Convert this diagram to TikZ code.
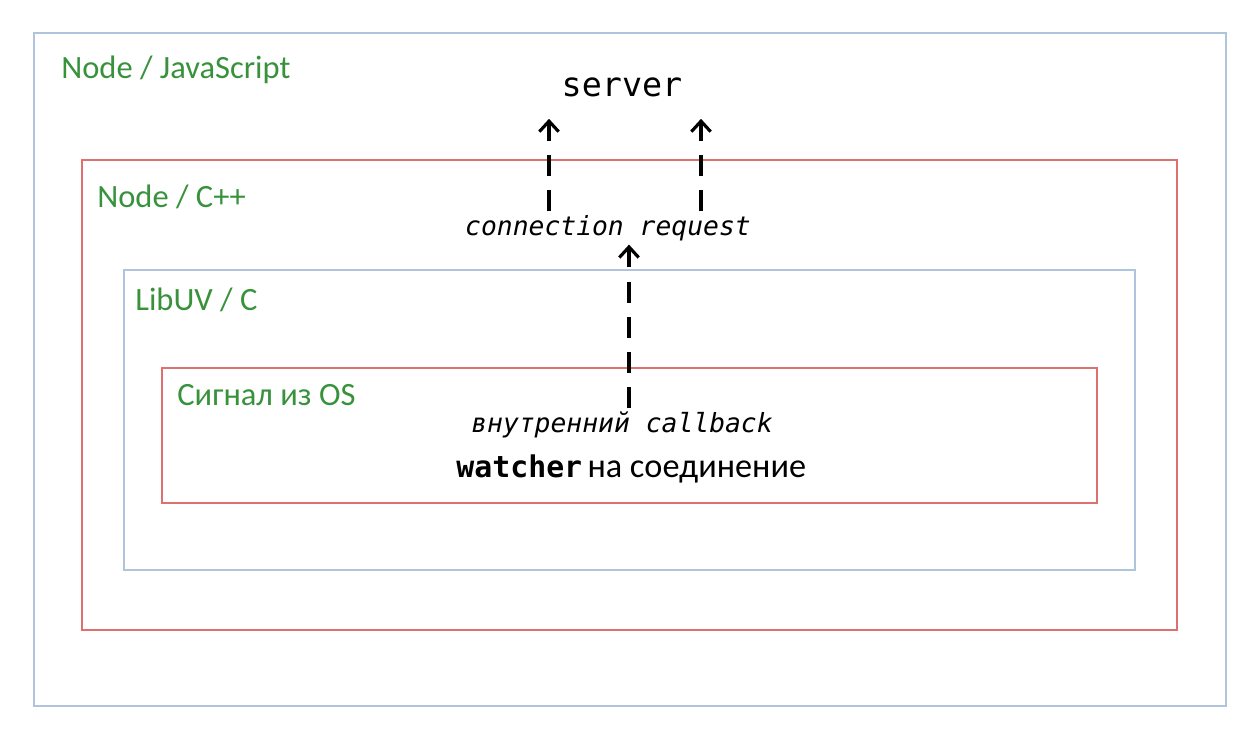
\documentclass[tikz,border=0pt]{standalone}
\usepackage{fontspec}
\setmainfont{Carlito}
\setmonofont{DejaVu Sans Mono}
\usetikzlibrary{arrows.meta}
\definecolor{labelgreen}{RGB}{56,146,60}
\definecolor{boxblue}{RGB}{176,196,222}
\definecolor{boxred}{RGB}{222,112,112}
\tikzset{
  layer/.style={anchor=west, text=labelgreen, font=\fontsize{18.5}{21}\selectfont, inner sep=0pt},
  code/.style={font=\ttfamily\itshape\fontsize{15}{17}\selectfont, inner sep=2pt},
  signal/.style={draw=black, line width=1.8pt, dash pattern=on 12pt off 8pt, -{Straight Barb[length=6pt,width=11pt]}}
}

\begin{document}
\begin{tikzpicture}[x=0.02cm, y=-0.02cm]
            \useasboundingbox (0,0) rectangle (1250,734);

            % Nested layers
            \draw[boxblue, line width=1pt] (34,33) rectangle (1226,706);
            \draw[boxred, line width=1pt] (82,160) rectangle (1177,630);
            \draw[boxblue, line width=1pt] (124,270) rectangle (1135,570);
            \draw[boxred, line width=1pt] (162,368) rectangle (1097,503);

            % Layer captions
            \node[layer] (js) at (61,70) {Node / JavaScript};
            \node[layer] (cpp) at (97,197) {Node / C++};
            \node[layer] (uv) at (135,300) {LibUV / C};
            \node[layer] (os) at (177,395) {Сигнал из OS};

            % Texts of the chain
            \node[font=\ttfamily\fontsize{19}{21}\selectfont] (server) at (622,87) {server};
            \node[code] (conn) at (608,228) {connection request};
            \node[code] (cb) at (622,425) {внутренний callback};
            \node[anchor=west, inner sep=0pt] (watcher) at (456,469)
              {\fontsize{17}{19}\selectfont\ttfamily\bfseries watcher\hspace{3pt}\rmfamily\mdseries\fontsize{19.5}{21}\selectfont на соединение};

            % Upward calls
            \draw[signal] (cb.north -| 629,0) -- (conn.south -| 629,0);
            \draw[signal] (conn.north -| 549,0) -- ([yshift=-0.32cm]server.south -| 549,0);
            \draw[signal] (conn.north -| 701,0) -- ([yshift=-0.32cm]server.south -| 701,0);
        \end{tikzpicture}
\end{document}
